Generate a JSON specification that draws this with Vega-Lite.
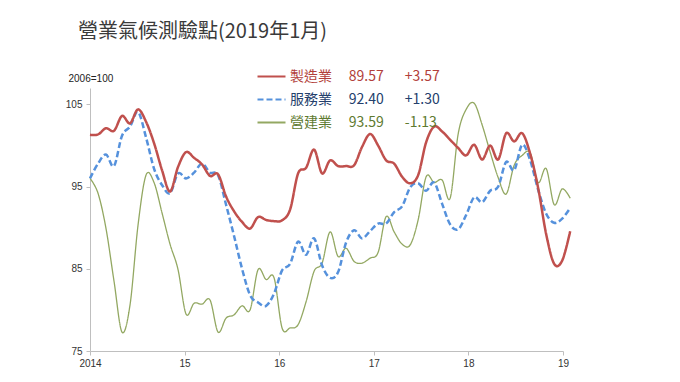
{
  "$schema": "https://vega.github.io/schema/vega-lite/v6.json",
  "width": 473,
  "height": 263,
  "autosize": {"type": "none"},
  "padding": {"left": 90, "top": 88, "right": 117, "bottom": 31},
  "background": "white",
  "config": {"view": {"stroke": null}, "font": "Noto Sans CJK TC"},
  "title": {
    "text": "營業氣候測驗點(2019年1月)",
    "font": "Noto Sans CJK TC",
    "fontSize": 20,
    "fontWeight": "normal",
    "color": "#3a3a3a",
    "anchor": "start",
    "frame": "group",
    "dx": -12,
    "baseline": "alphabetic",
    "offset": 3
  },
  "data": {
    "values": [
      {"t":0,"製造業":101.3,"服務業":96.0,"營建業":96.0},
      {"t":1,"製造業":101.35,"服務業":97.8,"營建業":94.2},
      {"t":2,"製造業":102.1,"服務業":98.9,"營建業":89.9},
      {"t":3,"製造業":101.8,"服務業":97.5,"營建業":83.5},
      {"t":4,"製造業":103.6,"服務業":101.2,"營建業":77.3},
      {"t":5,"製造業":102.7,"服務業":102.3,"營建業":80.6},
      {"t":6,"製造業":104.4,"服務業":104.1,"營建業":90.3},
      {"t":7,"製造業":102.9,"服務業":101.0,"營建業":96.4},
      {"t":8,"製造業":100.3,"服務業":97.2,"營建業":95.5},
      {"t":9,"製造業":97.0,"服務業":95.2,"營建業":91.8},
      {"t":10,"製造業":94.4,"服務業":94.2,"營建業":88.0},
      {"t":11,"製造業":97.4,"服務業":96.6,"營建業":84.9},
      {"t":12,"製造業":99.2,"服務業":96.0,"營建業":79.5},
      {"t":13,"製造業":98.5,"服務業":96.7,"營建業":80.8},
      {"t":14,"製造業":97.7,"服務業":97.8,"營建業":80.7},
      {"t":15,"製造業":96.3,"服務業":96.7,"營建業":81.2},
      {"t":16,"製造業":96.5,"服務業":96.4,"營建業":77.3},
      {"t":17,"製造業":93.8,"服務業":92.8,"營建業":79.0},
      {"t":18,"製造業":92.0,"服務業":89.0,"營建業":79.4},
      {"t":19,"製造業":90.7,"服務業":85.0,"營建業":80.5},
      {"t":20,"製造業":89.9,"服務業":81.8,"營建業":80.0},
      {"t":21,"製造業":91.3,"服務業":80.9,"營建業":84.9},
      {"t":22,"製造業":90.95,"服務業":80.5,"營建業":83.7},
      {"t":23,"製造業":90.8,"服務業":82.0,"營建業":83.9},
      {"t":24,"製造業":90.9,"服務業":84.8,"營建業":77.8},
      {"t":25,"製造業":92.2,"服務業":85.6,"營建業":77.8},
      {"t":26,"製造業":96.6,"服務業":88.3,"營建業":78.2},
      {"t":27,"製造業":97.3,"服務業":86.7,"營建業":81.0},
      {"t":28,"製造業":99.5,"服務業":88.7,"營建業":84.7},
      {"t":29,"製造業":96.6,"服務業":85.4,"營建業":85.7},
      {"t":30,"製造業":98.2,"服務業":83.9,"營建業":89.5},
      {"t":31,"製造業":97.5,"服務業":84.6,"營建業":86.5},
      {"t":32,"製造業":97.5,"服務業":88.2,"營建業":87.5},
      {"t":33,"製造業":97.6,"服務業":89.7,"營建業":85.9},
      {"t":34,"製造業":99.85,"服務業":88.7,"營建業":85.7},
      {"t":35,"製造業":101.4,"服務業":89.6,"營建業":86.3},
      {"t":36,"製造業":100.0,"服務業":90.5,"營建業":87.0},
      {"t":37,"製造業":98.2,"服務業":90.5,"營建業":91.35},
      {"t":38,"製造業":97.8,"服務業":91.9,"營建業":89.5},
      {"t":39,"製造業":96.2,"服務業":92.6,"營建業":88.0},
      {"t":40,"製造業":95.4,"服務業":94.9,"營建業":87.9},
      {"t":41,"製造業":96.4,"服務業":95.4,"營建業":90.95},
      {"t":42,"製造業":100.4,"服務業":94.5,"營建業":96.2},
      {"t":43,"製造業":102.3,"服務業":95.5,"營建業":95.5},
      {"t":44,"製造業":101.7,"服務業":92.9,"營建業":95.8},
      {"t":45,"製造業":100.7,"服務業":90.4,"營建業":93.6},
      {"t":46,"製造業":99.7,"服務業":89.8,"營建業":101.4},
      {"t":47,"製造業":98.8,"服務業":91.55,"營建業":104.4},
      {"t":48,"製造業":100.1,"服務業":93.7,"營建業":105.15},
      {"t":49,"製造業":98.3,"服務業":93.1,"營建業":102.5},
      {"t":50,"製造業":100.0,"服務業":94.5,"營建業":99.2},
      {"t":51,"製造業":98.3,"服務業":95.0,"營建業":96.1},
      {"t":52,"製造業":101.5,"服務業":98.0,"營建業":94.1},
      {"t":53,"製造業":100.5,"服務業":97.0,"營建業":97.6},
      {"t":54,"製造業":101.5,"服務業":100.1,"營建業":98.8},
      {"t":55,"製造業":99.0,"服務業":98.2,"營建業":99.1},
      {"t":56,"製造業":94.8,"服務業":94.6,"營建業":95.5},
      {"t":57,"製造業":89.2,"服務業":91.7,"營建業":97.2},
      {"t":58,"製造業":85.6,"服務業":90.6,"營建業":92.8},
      {"t":59,"製造業":86.0,"服務業":91.1,"營建業":94.72},
      {"t":60,"製造業":89.57,"服務業":92.4,"營建業":93.59}
    ]
  },
  "transform": [{"fold": ["營建業", "服務業", "製造業"], "as": ["s", "v"]}],
  "mark": {"type": "line", "interpolate": "cardinal", "tension": 0, "clip": false},
  "encoding": {
    "x": {
      "field": "t",
      "type": "quantitative",
      "scale": {"domain": [0, 59.1], "nice": false, "zero": false},
      "axis": {
        "values": [0, 11.82, 23.64, 35.46, 47.28, 59.1],
        "labelExpr": "['2014','15','16','17','18','19'][round(datum.value/11.82)]",
        "title": null,
        "grid": false,
        "domainColor": "#BFBFBF",
        "tickColor": "#BFBFBF",
        "tickSize": 4,
        "labelFont": "Liberation Sans",
        "labelFontSize": 10,
        "labelColor": "#333333",
        "labelPadding": 3,
        "labelFlush": false,
        "labelOverlap": false
      }
    },
    "y": {
      "field": "v",
      "type": "quantitative",
      "scale": {"domain": [75, 107], "nice": false, "zero": false},
      "axis": {
        "values": [75, 85, 95, 105],
        "title": "2006=100",
        "titleAngle": 0,
        "titleX": -22,
        "titleY": -10,
        "titleAlign": "left",
        "titleBaseline": "middle",
        "titleFont": "Liberation Sans",
        "titleFontSize": 10,
        "titleFontWeight": "normal",
        "titleColor": "#222222",
        "grid": false,
        "domainColor": "#BFBFBF",
        "tickColor": "#BFBFBF",
        "tickSize": 4,
        "labelFont": "Liberation Sans",
        "labelFontSize": 10,
        "labelColor": "#333333",
        "labelPadding": 4
      }
    },
    "color": {
      "field": "s",
      "type": "nominal",
      "scale": {"domain": ["製造業", "服務業", "營建業"], "range": ["#C0504D", "#5591DC", "#93A862"]},
      "legend": {
        "orient": "none",
        "legendX": 166,
        "legendY": -27,
        "title": null,
        "padding": 0,
        "symbolType": "stroke",
        "symbolSize": 784,
        "symbolStrokeWidth": 2.2,
        "rowPadding": -6,
        "labelOffset": 3,
        "labelFont": "Noto Sans CJK TC",
        "labelFontSize": 14,
        "labelLimit": 400,
        "labelExpr": "datum.value == '製造業' ? '製造業\u2002\u2002\u200989.57\u2002\u2002\u2002+3.57' : datum.value == '服務業' ? '服務業\u2002\u2002\u200992.40\u2002\u2002\u2002+1.30' : '營建業\u2002\u2002\u200993.59\u2002\u2002\u2002-1.13'",
        "encode": {
          "labels": {
            "update": {
              "fill": {"signal": "datum.value == '製造業' ? '#B23F3B' : datum.value == '服務業' ? '#24406C' : '#5E7A30'"}
            }
          }
        }
      }
    },
    "strokeDash": {
      "field": "s",
      "type": "nominal",
      "scale": {"domain": ["製造業", "服務業", "營建業"], "range": [[1, 0], [6, 3], [1, 0]]},
      "legend": null
    },
    "strokeWidth": {
      "condition": {"test": "datum.s == '營建業'", "value": 1.3},
      "value": 2.5
    }
  }
}
